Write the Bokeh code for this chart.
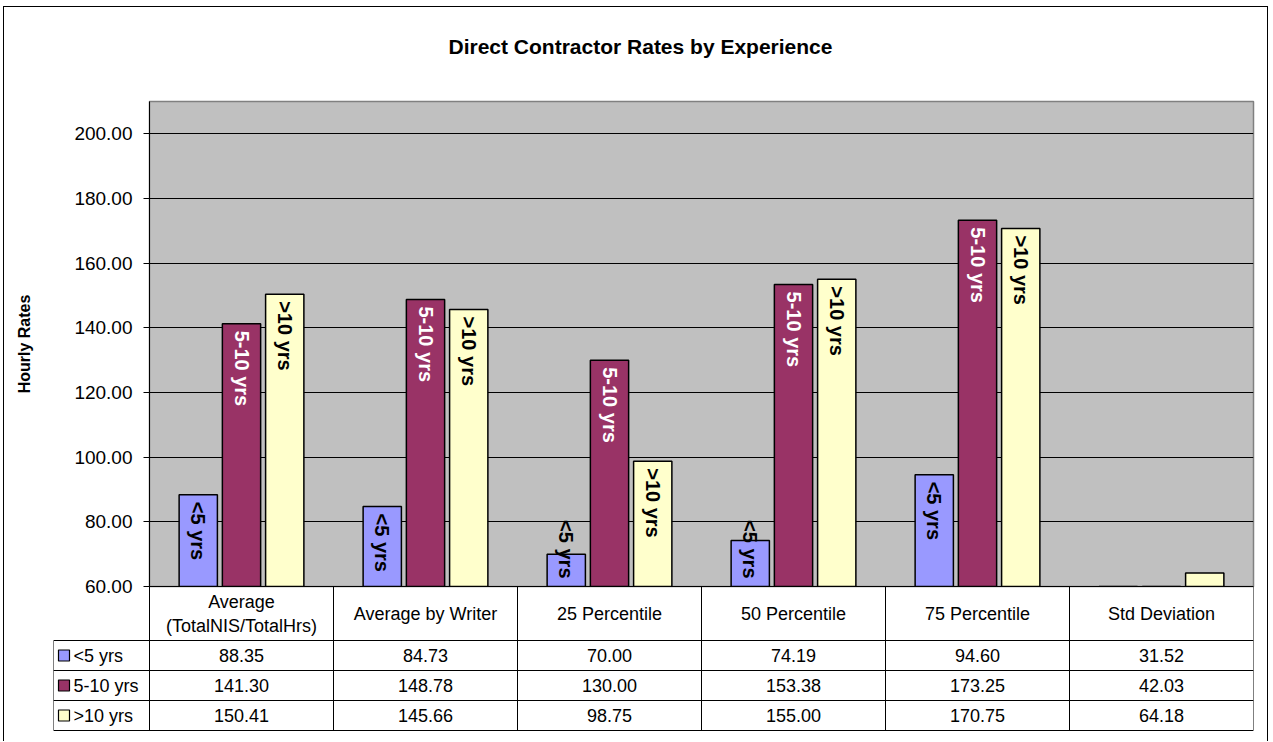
import math
from bokeh.plotting import figure
from bokeh.models import ColumnDataSource, FactorRange, Range1d, FixedTicker, NumeralTickFormatter, Title
from bokeh.transform import dodge
from bokeh.layouts import column
from bokeh.core.properties import value
from bokeh.embed import file_html
from bokeh.resources import INLINE

# ---------------- data ----------------
categories = ["Average (TotalNIS/TotalHrs)", "Average by Writer", "25 Percentile",
              "50 Percentile", "75 Percentile", "Std Deviation"]
series_names = ["<5 yrs", "5-10 yrs", ">10 yrs"]
lt5 = [88.35, 84.73, 70.00, 74.19, 94.60, 31.52]
y5_10 = [141.30, 148.78, 130.00, 153.38, 173.25, 42.03]
gt10 = [150.41, 145.66, 98.75, 155.00, 170.75, 64.18]
series_values = [lt5, y5_10, gt10]
series_colors = ["#9999FF", "#993366", "#FFFFCC"]
label_colors = ["black", "white", "black"]
y_ticks = [60, 80, 100, 120, 140, 160, 180, 200]

FONT = "Liberation Sans"
TITLE = "Direct Contractor Rates by Experience"

Y_MIN, Y_MAX = 60, 210
FRAME_H = 485
LABEL_FS = 20
OVERLAP = 12

# ---------------- chart ----------------
pA = figure(width=1263, height=579 + OVERLAP,
            x_range=FactorRange(*categories, range_padding=0),
            y_range=Range1d(Y_MIN, Y_MAX),
            x_axis_location=None, title=None,
            output_backend="svg", toolbar_location=None,
            min_border_left=145, min_border_right=14, min_border_top=94,
            min_border_bottom=OVERLAP)
pA.frame_align = False
pA.background_fill_color = "#C0C0C0"
pA.border_fill_color = "white"
pA.outline_line_color = "#808080"
pA.outline_line_width = 1.5
pA.xgrid.visible = False
pA.ygrid.grid_line_color = "black"
pA.ygrid.grid_line_width = 1
pA.ygrid.ticker = FixedTicker(ticks=y_ticks)

# spacing block between the frame and the title (adjacent to the frame)
pA.add_layout(Title(text=" ", text_font=FONT, text_font_size="21px", standoff=17), "above")
# the chart title
pA.add_layout(Title(text=TITLE, text_font=FONT, text_font_size="21px", text_font_style="bold",
                    text_color="black", align="left", offset=299,
                    vertical_align="top", text_baseline="top", standoff=0), "above")

ax = pA.yaxis[0]
ax.ticker = FixedTicker(ticks=y_ticks)
ax.formatter = NumeralTickFormatter(format="0.00")
ax.major_tick_out = 6
ax.major_tick_in = 0
ax.minor_tick_line_color = None
ax.major_tick_line_color = "black"
ax.axis_line_color = "black"
ax.major_label_text_font = FONT
ax.major_label_text_font_size = "19px"
ax.major_label_text_color = "black"
ax.major_label_standoff = 11
ax.axis_label = "Hourly Rates"
ax.axis_label_text_font = FONT
ax.axis_label_text_font_size = "16px"
ax.axis_label_text_font_style = "bold"
ax.axis_label_text_color = "black"
ax.axis_label_standoff = 38

px_per_unit = FRAME_H / (Y_MAX - Y_MIN)
offsets = [-0.235, 0.0, 0.235]
bar_w = 0.208
for name, vals, col, lcol, off in zip(series_names, series_values, series_colors, label_colors, offsets):
    src = ColumnDataSource(dict(cat=categories, val=vals))
    pA.vbar(x=dodge("cat", off, range=pA.x_range), top="val", bottom=0, width=bar_w,
            source=src, fill_color=col, line_color="black", line_width=1.5)
    # labels: inside from the bar top when they fit, else end-aligned near the axis
    need_px = 0.5 * LABEL_FS * len(name) + 16
    top_c, top_v, bot_c = [], [], []
    for c, v in zip(categories, vals):
        if v <= 65:
            continue
        if (v - Y_MIN) * px_per_unit >= need_px:
            top_c.append(c); top_v.append(v)
        else:
            bot_c.append(c)
    tsrc = ColumnDataSource(dict(cat=top_c, val=top_v, txt=[name] * len(top_c)))
    pA.text(x=dodge("cat", off, range=pA.x_range), y="val", text="txt", source=tsrc,
            angle=-math.pi / 2, text_align="left", text_baseline="middle",
            y_offset=7, text_color=lcol, text_font=value(FONT),
            text_font_size=f"{LABEL_FS}px", text_font_style="bold")
    bsrc = ColumnDataSource(dict(cat=bot_c, val=[Y_MIN] * len(bot_c), txt=[name] * len(bot_c)))
    pA.text(x=dodge("cat", off, range=pA.x_range), y="val", text="txt", source=bsrc,
            angle=-math.pi / 2, text_align="right", text_baseline="middle",
            y_offset=-8, text_color=lcol, text_font=value(FONT),
            text_font_size=f"{LABEL_FS}px", text_font_style="bold")

# ---------------- data table ----------------
legend_left = -96 / 184
pB = figure(width=1263, height=156,
            x_range=Range1d(legend_left, 6), y_range=Range1d(4.9, -1 / 30),
            x_axis_location=None, y_axis_location=None,
            output_backend="svg", toolbar_location=None,
            min_border_left=49, min_border_right=14, min_border_top=0, min_border_bottom=8)
pB.frame_align = False
pB.outline_line_color = None
pB.xgrid.visible = False
pB.ygrid.visible = False
pB.background_fill_color = None
pB.border_fill_color = None
pB.styles = {"margin-top": f"-{OVERLAP + 1}px"}

n = len(categories)
header_h = 1.8
row_edges = [header_h + i for i in range(len(series_names) + 1)]
x0s, x1s, y0s, y1s = [0], [n], [0], [0]
for ry in row_edges:
    x0s.append(legend_left); x1s.append(n); y0s.append(ry); y1s.append(ry)
x0s.append(legend_left); x1s.append(legend_left); y0s.append(header_h); y1s.append(row_edges[-1])
for i in range(n + 1):
    x0s.append(i); x1s.append(i); y0s.append(0); y1s.append(row_edges[-1])
pB.segment(x0=x0s, y0=y0s, x1=x1s, y1=y1s, line_color="black", line_width=1)

header_txt = [c.replace(" (", "\n(") for c in categories]
pB.text(x=[i + 0.5 for i in range(n)], y=[header_h / 2] * n, text=header_txt,
        text_align="center", text_baseline="middle", text_font=value(FONT),
        text_font_size="18px", text_color="black", text_line_height=1.2)

row_centers = [header_h + i + 0.5 for i in range(len(series_names))]
pB.scatter(x=[legend_left + 10.5 / 184] * len(series_names), y=row_centers, marker="square",
           size=11, fill_color=series_colors, line_color="black", line_width=1.2)
pB.text(x=[legend_left + 20 / 184] * len(series_names), y=row_centers, text=series_names,
        text_align="left", text_baseline="middle", text_font=value(FONT),
        text_font_size="18px", text_color="black")

for rc, vals in zip(row_centers, series_values):
    pB.text(x=[i + 0.5 for i in range(n)], y=[rc] * n, text=[f"{v:.2f}" for v in vals],
            text_align="center", text_baseline="middle", text_font=value(FONT),
            text_font_size="18px", text_color="black")

layout = column(pA, pB, spacing=0,
                styles={"margin-left": "3px", "margin-top": "6px",
                        "border-left": "1px solid black", "border-right": "1px solid black",
                        "border-top": "1px solid black"})

open("out.html", "w").write(file_html(layout, INLINE))
